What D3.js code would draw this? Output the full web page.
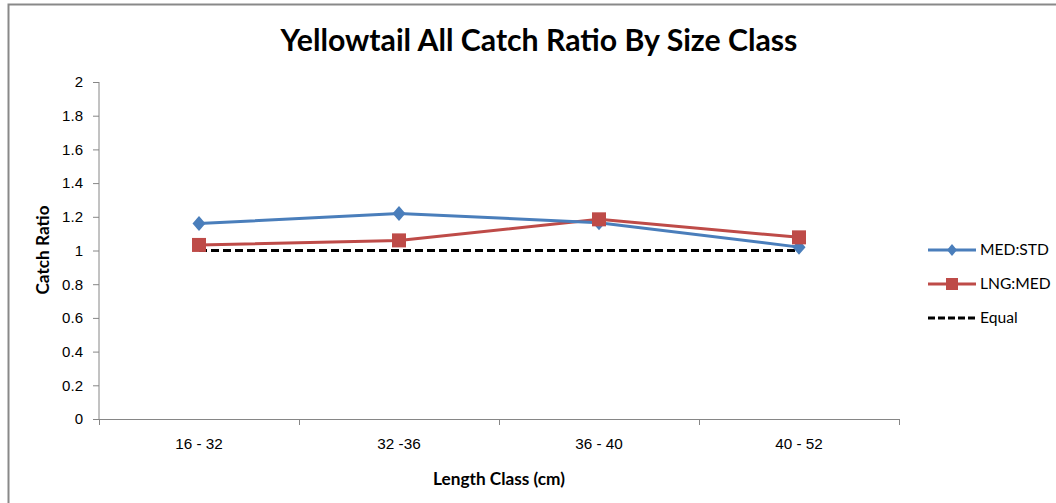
<!DOCTYPE html>
<html><head><meta charset="utf-8">
<script src="https://cdn.jsdelivr.net/npm/d3@7"></script>
<style>html,body{margin:0;padding:0;background:#fff;}svg{display:block;font-family:Lato,"Open Sans",sans-serif;}</style>
</head><body>
<svg id="chart" width="1056" height="503"></svg>
<script>
const categories = ["16 - 32", "32 -36", "36 - 40", "40 - 52"];
const medStd = [1.16, 1.22, 1.165, 1.02];
const lngMed = [1.033, 1.06, 1.185, 1.078];
const equal = [1, 1, 1, 1];
const yTicks = [0, 0.2, 0.4, 0.6, 0.8, 1, 1.2, 1.4, 1.6, 1.8, 2];
const seriesNames = ["MED:STD", "LNG:MED", "Equal"];

(function () {
const svg = d3.select("#chart");
function fitSize(str, width, bold) {
  const t = svg.append("text").attr("font-size", 100).attr("font-weight", bold ? "bold" : "normal").text(str);
  const w = t.node().getComputedTextLength();
  t.remove();
  return 100 * width / w;
}
const fsTick = fitSize("16 - 32", 49, false);
const fsYTick = fitSize("1.8", 21, false);
const fsTitle = fitSize("Yellowtail All Catch Ratio By Size Class", 517, true);
const fsAxis = fitSize("Length Class (cm)", 132, true);
const fsLeg = fitSize("MED:STD", 69, false);

svg.append("rect").attr("x", 8.5).attr("y", 4.5).attr("width", 1200).attr("height", 600)
  .attr("fill", "none").attr("stroke", "#898989").attr("stroke-width", 2);

const pL = 99, pR = 899, pT = 82, pB = 419;
const x = d3.scaleBand().domain(categories).range([pL, pR]);
const y = d3.scaleLinear().domain([0, 2]).range([pB, pT]);

const yAxis = d3.axisLeft(y).tickValues(yTicks).tickSize(6).tickPadding(10)
  .tickFormat(d => String(+d.toFixed(1)));
const gy = svg.append("g").attr("transform", `translate(${pL},0)`).call(yAxis);
gy.select(".domain").attr("stroke", "#868686").attr("d", `M0,${pT}V${pB}`);
gy.selectAll(".tick line").attr("stroke", "#868686");
gy.selectAll("text").attr("font-size", fsYTick).attr("fill", "#000");

const xAxis = d3.axisBottom(x).tickSize(0).tickPadding(19);
const gx = svg.append("g").attr("transform", `translate(0,${pB})`).call(xAxis);
gx.select(".domain").attr("stroke", "#868686");
gx.selectAll("text").attr("font-size", fsTick).attr("fill", "#000");
const bounds = categories.map(c => x(c)).concat([x(categories[categories.length-1]) + x.bandwidth()]);
gx.selectAll(".btick").data(bounds).enter().append("line")
  .attr("x1", d => d + 0.5).attr("x2", d => d + 0.5).attr("y1", 0).attr("y2", 6)
  .attr("stroke", "#868686");

const cx = c => x(c) + x.bandwidth() / 2;
const line = d3.line().x((d, i) => cx(categories[i])).y(d => y(d));

const blue = "#4a7ebb", red = "#be4b48";
svg.append("path").datum(equal).attr("d", line).attr("fill", "none")
  .attr("stroke", "#000").attr("stroke-width", 3).attr("stroke-dasharray", "8,4");
svg.append("path").datum(lngMed).attr("d", line).attr("fill", "none")
  .attr("stroke", red).attr("stroke-width", 3);
svg.append("path").datum(medStd).attr("d", line).attr("fill", "none")
  .attr("stroke", blue).attr("stroke-width", 3);
svg.selectAll(".dia").data(medStd).enter().append("path")
  .attr("transform", (d, i) => `translate(${cx(categories[i])},${y(d)})`)
  .attr("d", "M0,-7.5L6.5,0L0,7.5L-6.5,0Z").attr("fill", blue);
svg.selectAll(".sq").data(lngMed).enter().append("rect")
  .attr("x", (d, i) => cx(categories[i]) - 7).attr("y", d => y(d) - 7)
  .attr("width", 14).attr("height", 14).attr("fill", red);

svg.append("text").attr("x", 539).attr("y", 51).attr("text-anchor", "middle")
  .attr("font-size", fsTitle).attr("font-weight", "bold").text("Yellowtail All Catch Ratio By Size Class");
svg.append("text").attr("x", 499).attr("y", 485).attr("text-anchor", "middle")
  .attr("font-size", fsAxis).attr("font-weight", "bold").text("Length Class (cm)");
svg.append("text").attr("transform", "translate(49,250) rotate(-90)").attr("text-anchor", "middle")
  .attr("font-size", fsAxis).attr("font-weight", "bold").text("Catch Ratio");

const leg = svg.append("g").attr("transform", "translate(928,0)");
const ly = [250, 284, 318];
leg.append("line").attr("x1", 0).attr("x2", 48).attr("y1", ly[0]).attr("y2", ly[0]).attr("stroke", blue).attr("stroke-width", 3);
leg.append("path").attr("transform", `translate(24,${ly[0]})`).attr("d", "M0,-6L5,0L0,6L-5,0Z").attr("fill", blue);
leg.append("line").attr("x1", 0).attr("x2", 48).attr("y1", ly[1]).attr("y2", ly[1]).attr("stroke", red).attr("stroke-width", 3);
leg.append("rect").attr("x", 18).attr("y", ly[1] - 6).attr("width", 12).attr("height", 12).attr("fill", red);
leg.append("line").attr("x1", 0).attr("x2", 48).attr("y1", ly[2]).attr("y2", ly[2]).attr("stroke", "#000").attr("stroke-width", 3).attr("stroke-dasharray", "7,3");
leg.selectAll(".lt").data(seriesNames).enter().append("text")
  .attr("x", 52).attr("y", (d, i) => ly[i]).attr("dy", "0.35em").attr("font-size", fsLeg).text(d => d);
})();
</script>
</body></html>
